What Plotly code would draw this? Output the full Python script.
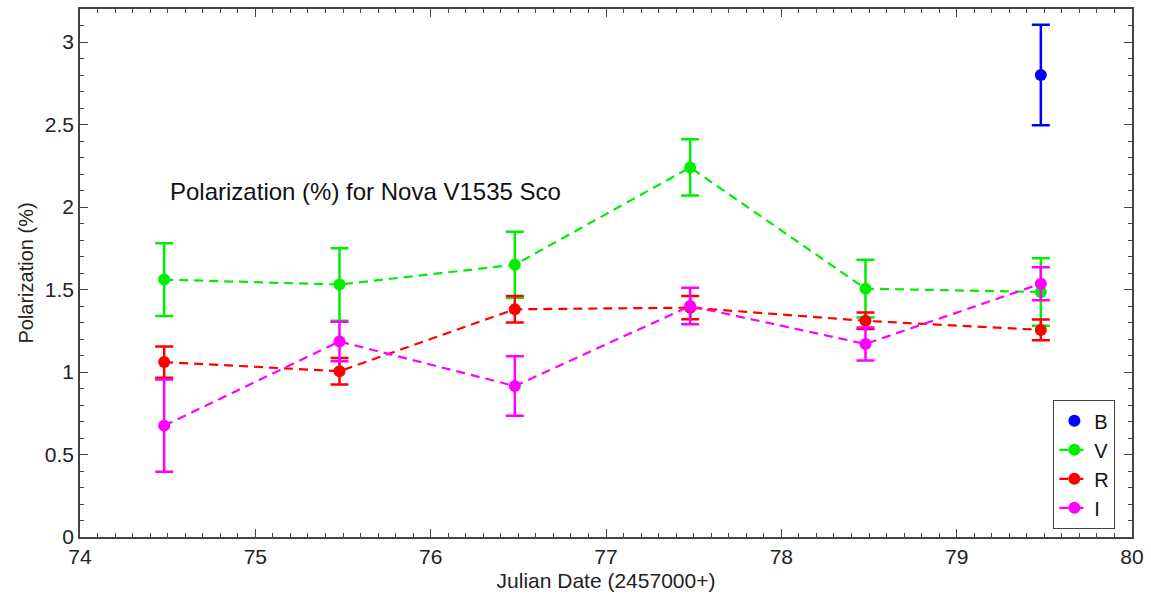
import plotly.graph_objects as go

jd = [74.48, 75.48, 76.48, 77.48, 78.48, 79.48]

b_x = [79.48]
b_y = [2.80]
b_err = [0.305]

v_y = [1.56, 1.53, 1.65, 2.24, 1.505, 1.485]
v_err = [0.22, 0.22, 0.20, 0.17, 0.175, 0.205]

r_y = [1.06, 1.005, 1.38, 1.39, 1.31, 1.255]
r_err = [0.095, 0.08, 0.08, 0.07, 0.05, 0.063]

i_y = [0.675, 1.185, 0.915, 1.40, 1.17, 1.535]
i_err = [0.28, 0.12, 0.18, 0.11, 0.10, 0.10]

y_ticks = [0, 0.5, 1, 1.5, 2, 2.5, 3]
y_ticktext = ["0", "0.5", "1", "1.5", "2", "2.5", "3"]
x_ticks = [74, 75, 76, 77, 78, 79, 80]

FONT = "Liberation Sans, Arial"

fig = go.Figure()

def add(name, x, y, err, color, lines):
    fig.add_trace(go.Scatter(
        x=x, y=y, name=name,
        mode="lines+markers" if lines else "markers",
        line=dict(color=color, width=2.2, dash="9px,6px"),
        marker=dict(color=color, size=12),
        error_y=dict(type="data", array=err, visible=True, color=color,
                     thickness=2.5, width=9),
    ))

add("B", b_x, b_y, b_err, "#0000ff", False)
add("V", jd, v_y, v_err, "#00ee00", True)
add("R", jd, r_y, r_err, "#ff0000", True)
add("I", jd, i_y, i_err, "#ff00ff", True)

axis_common = dict(
    showline=True, linecolor="#444444", linewidth=1.5, mirror="allticks",
    ticks="inside", ticklen=8, tickcolor="#444444", tickwidth=1.2,
    showgrid=False, zeroline=False,
    tickfont=dict(family=FONT, size=21, color="#222222"),
)

fig.update_xaxes(
    range=[74, 80], tickvals=x_ticks,
    minor=dict(dtick=0.1, ticks="inside", ticklen=4, tickcolor="#444444", showgrid=False),
    title=dict(text="Julian Date (2457000+)", font=dict(family=FONT, size=21, color="#222222"), standoff=6),
    **axis_common,
)
fig.update_yaxes(
    range=[0, 3.2], tickvals=y_ticks, ticktext=y_ticktext,
    minor=dict(dtick=0.1, ticks="inside", ticklen=4, tickcolor="#444444", showgrid=False),
    title=dict(text="Polarization (%)", font=dict(family=FONT, size=20, color="#222222"), standoff=6),
    **axis_common,
)

fig.add_annotation(
    x=74.5, y=2.095, xref="x", yref="y", xanchor="left", yanchor="middle",
    text="Polarization (%) for Nova V1535 Sco", showarrow=False,
    font=dict(family=FONT, size=24, color="#111111"),
)

fig.update_layout(
    width=1151, height=602,
    margin=dict(l=80, r=18, t=7, b=65),
    plot_bgcolor="white", paper_bgcolor="white",
    legend=dict(
        x=0.984, y=0.015, xanchor="right", yanchor="bottom",
        bgcolor="white", bordercolor="#444444", borderwidth=1.2,
        font=dict(family=FONT, size=20, color="#111111"),
        itemwidth=30, tracegroupgap=0,
    ),
)

fig.write_html("out.html")
